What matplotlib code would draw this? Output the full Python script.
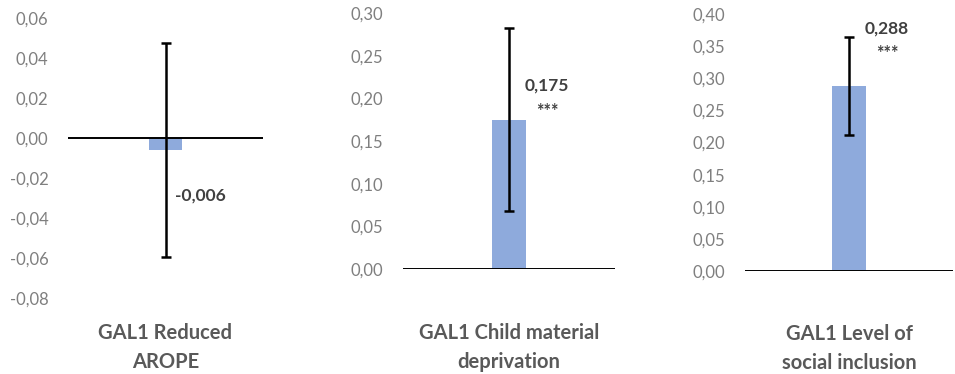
import matplotlib
matplotlib.use("Agg")
import matplotlib.pyplot as plt
from matplotlib.ticker import FuncFormatter

plt.rcParams['font.family'] = ['Lato', 'DejaVu Sans']

# Data
labels = ["GAL1 Reduced\nAROPE", "GAL1 Child material\ndeprivation", "GAL1 Level of\nsocial inclusion"]
values = [-0.006, 0.175, 0.288]
errors = [0.0535, 0.107, 0.076]
value_text = ["-0,006", "0,175", "0,288"]
stars = ["", "***", "***"]
ylims = [(-0.08, 0.06), (0.0, 0.30), (0.0, 0.40)]
yticks = [[-0.08, -0.06, -0.04, -0.02, 0.0, 0.02, 0.04, 0.06],
          [0.0, 0.05, 0.10, 0.15, 0.20, 0.25, 0.30],
          [0.0, 0.05, 0.10, 0.15, 0.20, 0.25, 0.30, 0.35, 0.40]]

W, H = 955, 374
# axes boxes in pixels: left, top, right, bottom
boxes = [(68, 18, 263, 298), (403, 13, 615, 269), (745, 14, 953, 271)]
# value label position (x, y, ha) and star baseline (x, y)
label_pos = [(0.05, -0.029, 'left'), (0.18, 0.215, 'center'), (0.183, 0.378, 'center')]
star_pos = [None, (0.18, 0.178), (0.183, 0.33)]
label_pad = [18, 39, 38]

bar_color = "#8eaadc"
tick_color = "#7f7f7f"
text_color = "#595959"

fig = plt.figure(figsize=(W / 100, H / 100), dpi=100)

for i in range(3):
	l, t, r, b = boxes[i]
	ax = fig.add_axes([l / W, 1 - b / H, (r - l) / W, (b - t) / H])
	ax.bar([0], [values[i]], width=0.165, color=bar_color, zorder=2)
	ax.errorbar([0], [values[i]], yerr=[errors[i]], fmt='none', ecolor='black',
				elinewidth=1.8, capsize=3.5, capthick=1.8, zorder=3)
	ax.axhline(0, color='black', lw=1.4, zorder=4)
	ax.set_xlim(-0.5, 0.5)
	ax.set_ylim(*ylims[i])
	ax.set_yticks(yticks[i])
	ax.yaxis.set_major_formatter(FuncFormatter(lambda v, p: f"{v:.2f}".replace('.', ',').replace('-0,00', '0,00')))
	ax.tick_params(axis='y', length=0, pad=14, labelsize=12, labelcolor=tick_color)
	ax.set_xticks([])
	for s in ax.spines.values():
		s.set_visible(False)
	ax.set_xlabel(labels[i], fontsize=14.5, fontweight='bold', color=text_color,
				  labelpad=label_pad[i], linespacing=1.55)
	x, y, ha = label_pos[i]
	ax.text(x, y, value_text[i], ha=ha, va='center', fontsize=12.5, fontweight='bold',
			color='#404040')
	if stars[i]:
		sx, sy = star_pos[i]
		ax.text(sx, sy, stars[i], ha='center', va='baseline', fontsize=13, fontweight='bold',
				color='#404040')

fig.savefig("out.png", dpi=100)
